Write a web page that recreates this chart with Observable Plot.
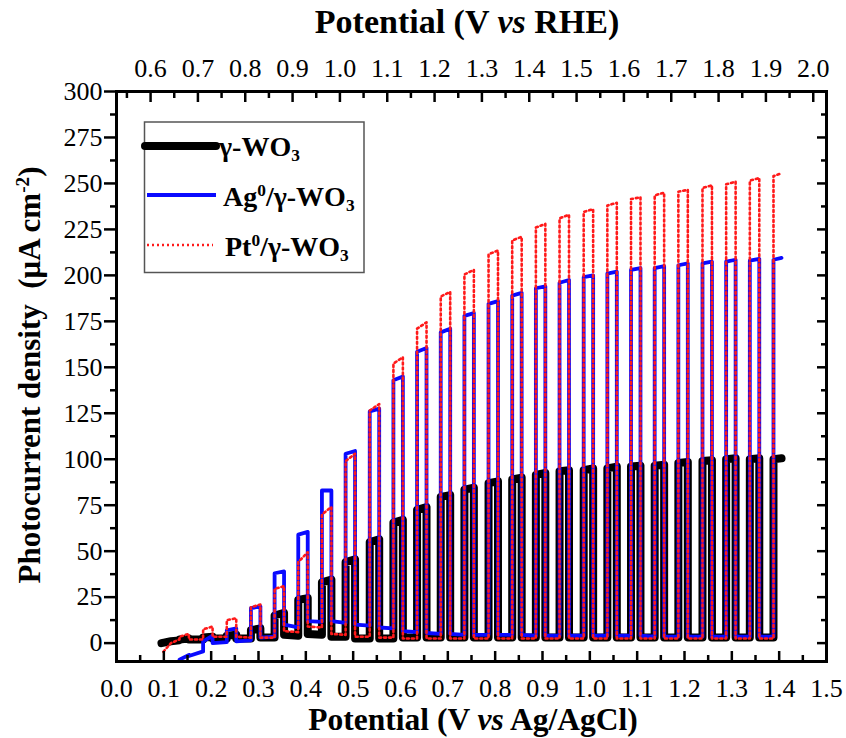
<!DOCTYPE html>
<html><head><meta charset="utf-8">
<script src="https://cdn.jsdelivr.net/npm/d3@7"></script>
<script src="https://cdn.jsdelivr.net/npm/@observablehq/plot@0.6"></script>
<style>body{margin:0;background:#fff} svg{display:block}</style>
</head><body><div id="chart"></div>
<script>
// ---------- data ----------
// potentials (V vs Ag/AgCl) where the light is switched on
const onsets = [0.133, 0.183, 0.233, 0.284, 0.334, 0.384, 0.434, 0.484, 0.535, 0.585, 0.635, 0.685, 0.735,
                0.786, 0.836, 0.886, 0.936, 0.987, 1.037, 1.087, 1.137, 1.187, 1.238, 1.288, 1.338, 1.388];
const lightWidth = 0.02;   // V of illumination per chop
const scanEnd = 1.405;

// γ-WO3
const blackPre = [[0.095, 0.0], [0.115, 1.0], [0.133, 1.5]];
const blackTopStart = [2, 3, 4, 7, 15, 23.5, 33, 44, 55, 65.5, 72.5, 79.5, 83.5, 87, 89, 91.5, 93.5, 94, 95, 96, 96.5, 98, 99, 100, 100, 100];
const blackTopEnd   = [2.5, 3.5, 4.5, 8, 16.5, 24.5, 34.5, 45.5, 56.5, 67, 74, 80.5, 84.5, 88, 90, 92.5, 94, 95, 96, 96.5, 97, 98.5, 99.5, 100.5, 100.5, 100.5];
const blackDarkStart = [2, 2.5, 2.5, 3, 4.5, 5, 3.5, 2.5, 2.5, 3, 3, 3, 3, 3, 3, 3, 3, 3, 3, 3, 3, 3, 3, 3, 3];
const blackDarkEnd   = [2, 2.5, 2.5, 3, 4, 4.5, 3.5, 2.5, 2.5, 3, 3, 3, 3, 3, 3, 3, 3, 3, 3, 3, 3, 3, 3, 3, 3];

// Ag0/γ-WO3
const bluePre = [[0.128, -11], [0.133, -9.5]];
const blueTopStart = [-9, 1, 7, 19, 38, 59, 83, 103, 126, 143, 158.5, 169, 178, 184.5, 189, 193, 196, 199, 201, 203, 204, 205.5, 206.5, 207.5, 208, 208.5];
const blueTopEnd   = [-6.5, 4, 8, 20, 39, 60.5, 83, 104.5, 127.5, 145, 160.5, 171, 179.5, 186, 190.5, 194, 197.5, 200, 202, 204, 205, 206.5, 207.5, 208.5, 209, 209.5];
const blueDarkStart = [-7, 0, 1, 3, 10, 12, 12, 10, 8.5, 6.5, 5.5, 5, 4.5, 4.5, 4.5, 4, 4, 4, 4, 4, 3.5, 3.5, 3.5, 3.5, 3.5];
const blueDarkEnd   = [-4.5, 0.5, 1.5, 3.5, 8.5, 11.5, 11, 9.5, 8, 6, 5, 4.5, 4.5, 4.5, 4, 4, 4, 4, 4, 3.5, 3.5, 3.5, 3.5, 3.5, 3.5];

// Pt0/γ-WO3
const redPre = [[0.099, -4.7], [0.115, 0.0], [0.133, 2.0]];
const redTopStart = [3.5, 7.5, 12.5, 19.5, 29.5, 44, 70, 99, 126.5, 152, 171, 188.5, 200.5, 211.5, 219, 226, 231, 234.5, 238, 241.5, 243.5, 245.5, 247.5, 249.5, 251.5, 254];
const redTopEnd   = [5, 9, 13.5, 21, 31, 49.5, 74, 103, 130, 155.5, 174.5, 191, 203, 213.5, 221, 228, 233, 236, 239.5, 242.5, 245, 246.5, 249, 251, 253, 255.5];
const redDarkStart = [2, 3.5, 3.5, 3, 6.5, 9, 5, 3.5, 3, 2.5, 2.5, 2.5, 2.5, 2.5, 2.5, 2.5, 2.5, 2.5, 2.5, 2.5, 2.5, 2.5, 2.5, 2.5, 2.5];
const redDarkEnd   = [2, 3.5, 3, 3, 6, 8.5, 4.5, 3.5, 3, 2.5, 2.5, 2.5, 2.5, 2.5, 2.5, 2.5, 2.5, 2.5, 2.5, 2.5, 2.5, 2.5, 2.5, 2.5, 2.5];

// axes
const xMajor = [0, 0.1, 0.2, 0.3, 0.4, 0.5, 0.6, 0.7, 0.8, 0.9, 1.0, 1.1, 1.2, 1.3, 1.4, 1.5];
const xMinor = [0.05, 0.15, 0.25, 0.35, 0.45, 0.55, 0.65, 0.75, 0.85, 0.95, 1.05, 1.15, 1.25, 1.35, 1.45];
const rheMajor = [0.6, 0.7, 0.8, 0.9, 1.0, 1.1, 1.2, 1.3, 1.4, 1.5, 1.6, 1.7, 1.8, 1.9, 2.0];
const rheMinor = [0.55, 0.65, 0.75, 0.85, 0.95, 1.05, 1.15, 1.25, 1.35, 1.45, 1.55, 1.65, 1.75, 1.85, 1.95];
const rheOffset = 0.528;   // V vs RHE minus V vs Ag/AgCl
const yMajor = [0, 25, 50, 75, 100, 125, 150, 175, 200, 225, 250, 275, 300];
const yMinor = [12.5, 37.5, 62.5, 87.5, 112.5, 137.5, 162.5, 187.5, 212.5, 237.5, 262.5, 287.5];

// ---------- build chopped-light traces ----------
function trace(pre, topS, topE, darkS, darkE) {
  const pts = pre.map(([x, y]) => ({x, y}));
  onsets.forEach((on, k) => {
    const last = k === onsets.length - 1;
    pts.push({x: on, y: topS[k]});
    const off = last ? scanEnd : on + lightWidth;
    pts.push({x: off, y: topE[k]});
    if (!last) {
      pts.push({x: off, y: darkS[k]});
      pts.push({x: onsets[k + 1], y: darkE[k]});
    }
  });
  return pts;
}
const black = trace(blackPre, blackTopStart, blackTopEnd, blackDarkStart, blackDarkEnd);
const blue = trace(bluePre, blueTopStart, blueTopEnd, blueDarkStart, blueDarkEnd);
const red = trace(redPre, redTopStart, redTopEnd, redDarkStart, redDarkEnd);

const FONT = "'Liberation Serif', 'Times New Roman', serif";
const f1 = d3.format(".1f");
const TICKFS = 26;
const RED_DASH = "2 3";

const chart = Plot.plot({
  width: 846, height: 738,
  marginLeft: 116, marginRight: 20, marginTop: 91, marginBottom: 77,
  style: {fontFamily: FONT, fontSize: TICKFS + "px", color: "#000", background: "#fff"},
  x: {domain: [0, 1.5]},
  y: {domain: [-10, 300]},
  marks: [
    Plot.line(black, {x: "x", y: "y", stroke: "#000", strokeWidth: 8, strokeLinejoin: "round", strokeLinecap: "round", clip: true}),
    Plot.line(blue, {x: "x", y: "y", stroke: "#0a0aff", strokeWidth: 3.8, strokeLinejoin: "round", clip: true}),
    Plot.line(red, {x: "x", y: "y", stroke: "#ff1a1a", strokeWidth: 2.6, strokeDasharray: RED_DASH, clip: true}),
    Plot.frame({strokeWidth: 3}),
    // bottom axis (inward ticks)
    Plot.axisX(xMajor, {anchor: "bottom", tickSize: -10, strokeWidth: 2.5, fill: "none", label: null}),
    Plot.axisX(xMinor, {anchor: "bottom", tickSize: -6, strokeWidth: 2.5, fill: "none", label: null}),
    Plot.axisX(xMajor, {anchor: "bottom", tickSize: 0, tickPadding: 17, tickFormat: f1, fontSize: TICKFS, label: null}),
    // top axis (RHE)
    Plot.axisX(rheMajor.map(v => v - rheOffset), {anchor: "top", tickSize: -10, strokeWidth: 2.5, fill: "none", label: null}),
    Plot.axisX(rheMinor.map(v => v - rheOffset), {anchor: "top", tickSize: -6, strokeWidth: 2.5, fill: "none", label: null}),
    Plot.axisX(rheMajor.map(v => v - rheOffset), {anchor: "top", tickSize: 0, tickPadding: 15, tickFormat: d => f1(d + rheOffset), fontSize: TICKFS, label: null}),
    // left axis (outward ticks)
    Plot.axisY(yMajor, {anchor: "left", tickSize: 12, tickPadding: 2, strokeWidth: 2.5, fontSize: TICKFS, label: null}),
    Plot.axisY(yMinor, {anchor: "left", tickSize: 6, strokeWidth: 2.5, fill: "none", label: null}),
    // right axis (inward ticks)
    Plot.axisY(yMajor, {anchor: "right", tickSize: -10, strokeWidth: 2.5, fill: "none", label: null}),
    Plot.axisY(yMinor, {anchor: "right", tickSize: -6, strokeWidth: 2.5, fill: "none", label: null})
  ]
});
document.getElementById("chart").appendChild(chart);

// ---------- titles & legend (rich text) ----------
const svg = d3.select(chart);
function rich(g, parts) {
  parts.forEach(p => {
    const t = g.append("tspan").text(p.t);
    if (p.i) t.attr("font-style", "italic");
    if (p.sub) t.attr("font-size", "0.62em").attr("dy", "0.3em");
    if (p.sup) t.attr("font-size", "0.62em").attr("dy", "-0.55em");
    if (p.back) t.attr("dy", p.back);
  });
  return g;
}
const titleStyle = size => g => g.attr("font-family", FONT).attr("font-weight", "bold").attr("font-size", size)
  .attr("text-anchor", "middle").attr("fill", "#000").style("white-space", "pre");

rich(svg.append("text").call(titleStyle(34)).attr("x", 467).attr("y", 33),
  [{t: "Potential (V "}, {t: "vs", i: true}, {t: " RHE)"}]);
rich(svg.append("text").call(titleStyle(31.5)).attr("x", 473).attr("y", 730),
  [{t: "Potential (V "}, {t: "vs", i: true}, {t: " Ag/AgCl)"}]);
rich(svg.append("text").call(titleStyle(31)).attr("transform", "translate(40,375) rotate(-90)"),
  [{t: "Photocurrent density  (\u03BCA cm"}, {t: "-2", sup: true}, {t: ")", back: "0.34em"}]);

// legend
const lg = svg.append("g");
lg.append("rect").attr("x", 144.5).attr("y", 122).attr("width", 219.5).attr("height", 150.5)
  .attr("fill", "#fff").attr("stroke", "#555").attr("stroke-width", 1.5);
lg.append("line").attr("x1", 145).attr("x2", 216).attr("y1", 146).attr("y2", 146)
  .attr("stroke", "#000").attr("stroke-width", 8).attr("stroke-linecap", "round");
lg.append("line").attr("x1", 147).attr("x2", 216).attr("y1", 195).attr("y2", 195)
  .attr("stroke", "#0a0aff").attr("stroke-width", 3.8);
lg.append("line").attr("x1", 147).attr("x2", 213).attr("y1", 245).attr("y2", 245)
  .attr("stroke", "#ff1a1a").attr("stroke-width", 2.6).attr("stroke-dasharray", RED_DASH);
const legStyle = g => g.attr("font-family", FONT).attr("font-weight", "bold").attr("font-size", 28)
  .attr("fill", "#000").attr("text-anchor", "start");
rich(lg.append("text").call(legStyle).attr("x", 219).attr("y", 156),
  [{t: "\u03B3-WO"}, {t: "3", sub: true}]);
rich(lg.append("text").call(legStyle).attr("x", 223).attr("y", 206),
  [{t: "Ag"}, {t: "0", sup: true}, {t: "/\u03B3-WO", back: "0.34em"}, {t: "3", sub: true}]);
rich(lg.append("text").call(legStyle).attr("x", 225).attr("y", 256),
  [{t: "Pt"}, {t: "0", sup: true}, {t: "/\u03B3-WO", back: "0.34em"}, {t: "3", sub: true}]);
</script>
</body></html>
